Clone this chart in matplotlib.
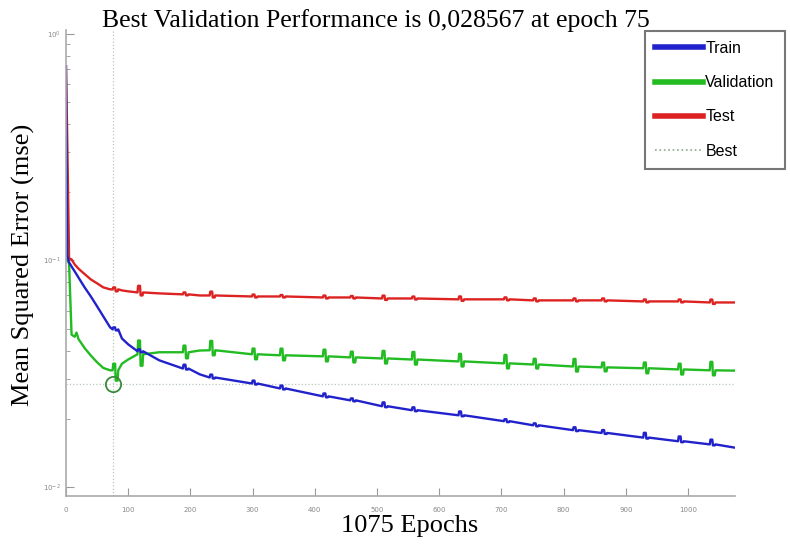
import matplotlib
matplotlib.use("Agg")
import matplotlib.pyplot as plt
from matplotlib.lines import Line2D
from matplotlib.ticker import LogLocator, FixedLocator, NullFormatter

# ---------------- data ----------------
epochs = [0, 2, 5, 9, 14, 17, 20, 30, 40, 50, 60, 71, 75, 90, 100, 115, 150,
          188, 215, 231, 299, 344, 413, 457, 508, 556, 631, 704, 751, 815,
          861, 928, 984, 1035, 1075]

train = [0.72, 0.105, 0.098, 0.094, 0.0894, 0.0868, 0.0841, 0.0760, 0.0693,
         0.0627, 0.0566, 0.0506, 0.0496, 0.0452, 0.0426, 0.0397, 0.0362,
         0.0333, 0.0314, 0.0304, 0.0286, 0.0272, 0.0251, 0.0241, 0.0227,
         0.0218, 0.0207, 0.0195, 0.0187, 0.0178, 0.0173, 0.0165, 0.0159,
         0.0154, 0.0149]

validation = [0.35, 0.10, 0.097, 0.047, 0.046, 0.048, 0.045, 0.041, 0.038,
              0.0355, 0.0335, 0.0327, 0.0327, 0.035, 0.0365, 0.0385, 0.0393,
              0.0393, 0.0400, 0.0401, 0.0385, 0.0381, 0.0377, 0.0373, 0.0369,
              0.0365, 0.0358, 0.0351, 0.0347, 0.0340, 0.0337, 0.0334, 0.0330,
              0.0327, 0.0326]

test = [0.72, 0.35, 0.102, 0.101, 0.096, 0.094, 0.092, 0.087, 0.0824, 0.0792,
        0.0760, 0.0745, 0.0745, 0.0737, 0.0730, 0.0722, 0.0715, 0.0708,
        0.0700, 0.0700, 0.0693, 0.0693, 0.0686, 0.0686, 0.0679, 0.0679,
        0.0673, 0.0673, 0.0666, 0.0666, 0.0666, 0.0659, 0.0659, 0.0652,
        0.0652]

# epochs where the curves show small jumps, and jump ratios (top / bottom)
spike_epochs = [75, 115, 188, 231, 299, 344, 413, 457, 508, 556, 631, 704,
                751, 815, 861, 928, 984, 1035]
val_up = [1.07, 1.15, 1.07, 1.10, 1.06, 1.07, 1.07, 1.06, 1.08, 1.08, 1.08,
          1.09, 1.06, 1.08, 1.05, 1.06, 1.06, 1.09]
val_down = [0.90, 0.89, 0.94, 0.95, 0.95, 0.95, 0.95, 0.95, 0.95, 0.95, 0.95,
            0.95, 0.96, 0.95, 0.96, 0.95, 0.95, 0.95]
train_up = [1.02, 1.02, 1.04, 1.03, 1.03, 1.03, 1.03, 1.02, 1.04, 1.03, 1.04,
            1.02, 1.02, 1.03, 1.03, 1.05, 1.05, 1.05]
train_down = [0.99] * 18
test_up = [1.02, 1.07, 1.02, 1.04, 1.02, 1.015, 1.02, 1.015, 1.03, 1.02,
           1.03, 1.02, 1.02, 1.02, 1.02, 1.02, 1.02, 1.03]
test_down = [0.98, 0.97, 0.99, 0.98, 0.99, 0.99, 0.99, 0.99, 0.985, 0.99,
             0.985, 0.99, 0.99, 0.99, 0.99, 0.99, 0.99, 0.985]

best_epoch = 75
best_value = 0.028567
x_ticks = [0, 100, 200, 300, 400, 500, 600, 700, 800, 900, 1000]
legend_labels = ["Train", "Validation", "Test", "Best"]
title_text = "Best Validation Performance is 0,028567 at epoch 75"
xlabel_text = "1075 Epochs"
ylabel_text = "Mean Squared Error (mse)"


def with_spikes(ep, vals, up, down):
    xs, ys = [], []
    for e, v in zip(ep, vals):
        xs.append(e)
        ys.append(v)
        if e in spike_epochs:
            i = spike_epochs.index(e)
            xs += [e + 1, e + 4, e + 5, e + 8, e + 9]
            ys += [v * up[i], v * up[i], v * down[i], v * down[i], v]
    return xs, ys


# ---------------- figure ----------------
fig = plt.figure(figsize=(7.9, 5.47), dpi=100)
ax = fig.add_axes([0.0835, 0.093, 0.8465, 0.852])

c_train = "#2222cc"
c_val = "#22bb22"
c_test = "#dd2222"
c_best = "#b8c8b8"

ax.axvline(best_epoch, color=c_best, lw=0.9, ls=":")
ax.axhline(best_value, color=c_best, lw=0.9, ls=":")

xt, yt = with_spikes(epochs, train, train_up, train_down)
xv, yv = with_spikes(epochs, validation, val_up, val_down)
xs, ys = with_spikes(epochs, test, test_up, test_down)
ax.plot(xs, ys, color=c_test, lw=1.7)
ax.plot(xv, yv, color=c_val, lw=1.7)
ax.plot(xt, yt, color=c_train, lw=1.7)
ax.plot([best_epoch], [best_value], marker="o", ms=11, mfc="none",
        mec="#3a8a3a", mew=1.3)

ax.set_yscale("log")
ax.set_xlim(0, 1075)
ax.set_ylim(0.0091, 1.04)
ax.xaxis.set_major_locator(FixedLocator(x_ticks))
ax.yaxis.set_major_locator(LogLocator(base=10))
ax.yaxis.set_minor_locator(LogLocator(base=10, subs=range(2, 10)))
ax.yaxis.set_minor_formatter(NullFormatter())
ax.tick_params(axis="both", which="both", direction="in", colors="#999999",
               labelsize=5, labelcolor="#888888")
ax.tick_params(axis="both", which="major", length=6, width=0.8)
ax.tick_params(axis="y", which="minor", length=3, width=0.6)
ax.tick_params(axis="x", pad=8)
for s in ["top", "right"]:
    ax.spines[s].set_visible(False)
for s in ["left", "bottom"]:
    ax.spines[s].set_color("#aaaaaa")
    ax.spines[s].set_linewidth(1.2)

serif = ["Liberation Serif", "DejaVu Serif"]
fig.text(0.476, 0.963, title_text, ha="center", va="center",
         fontsize=18.5, family=serif)
fig.text(0.519, 0.038, xlabel_text, ha="center", va="center",
         fontsize=19, family=serif)
fig.text(0.030, 0.515, ylabel_text, ha="center", va="center",
         rotation=90, fontsize=19, family=serif)

handles = [Line2D([], [], color=c_train, lw=4),
           Line2D([], [], color=c_val, lw=4),
           Line2D([], [], color=c_test, lw=4),
           Line2D([], [], color="#88aa88", lw=1.2, ls=":")]
leg = fig.legend(handles, legend_labels, loc="upper left",
                 bbox_to_anchor=(0.816, 0.944), frameon=True, fancybox=False,
                 edgecolor="#555555", handlelength=3.0, handletextpad=0.15,
                 labelspacing=1.2, borderpad=0.65, borderaxespad=0,
                 prop={"family": ["Liberation Sans", "DejaVu Sans"],
                       "size": 11.5})
leg.get_frame().set_linewidth(1.5)

fig.savefig("out.png", dpi=100)
